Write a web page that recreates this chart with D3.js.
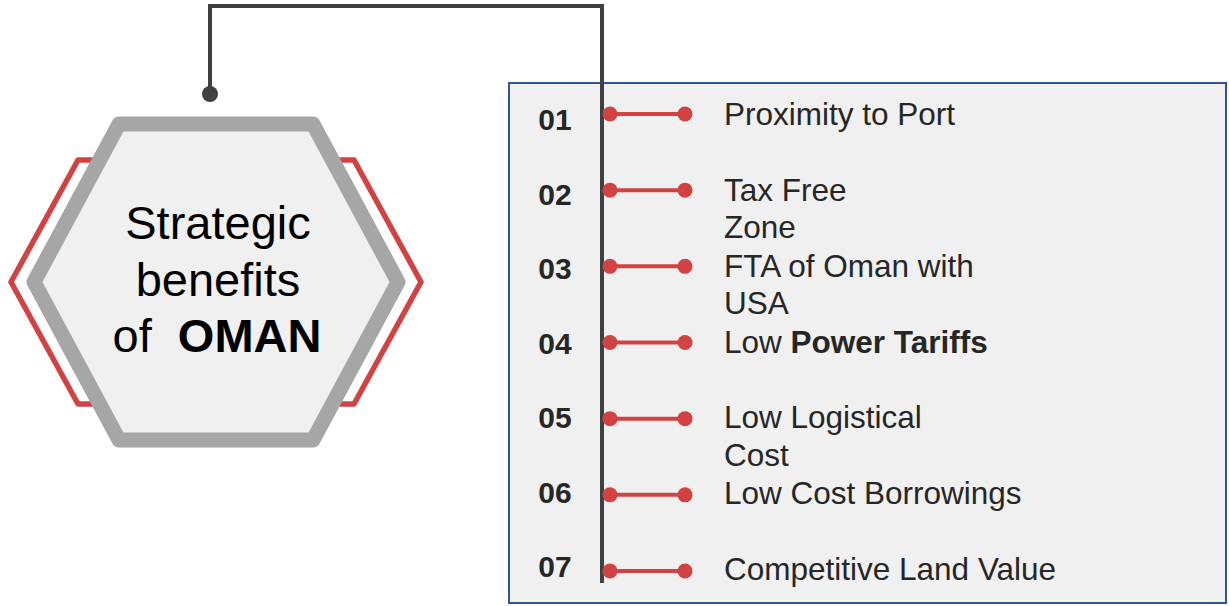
<!DOCTYPE html>
<html>
<head>
<meta charset="utf-8">
<script src="https://cdn.jsdelivr.net/npm/d3@7"></script>
<style>
  html, body { margin: 0; padding: 0; background: #fff; }
  text { font-family: "Liberation Sans", Arial, sans-serif; }
</style>
</head>
<body>
<div class="canvas"></div>
<script>
// data
const numbers = ['01', '02', '03', '04', '05', '06', '07'];
const labelLines = [
  ['Proximity to Port'],
  ['Tax Free', 'Zone'],
  ['FTA of Oman with', 'USA'],
  ['Low Power Tariffs'],
  ['Low Logistical', 'Cost'],
  ['Low Cost Borrowings'],
  ['Competitive Land Value']
];
const boldPhrases = ['', '', '', 'Power Tariffs', '', '', ''];
const titleLines = ['Strategic', 'benefits', 'of  OMAN'];
const titleBold = 'OMAN';

const dims = { width: 1229, height: 606 };
const box = { x: 509, y: 83, w: 717, h: 520 };
const hex = { cx: 216, cy: 282 };
const darkLine = '#404040';
const red = '#d24242';

const svg = d3.select('.canvas')
  .append('svg')
  .attr('width', dims.width)
  .attr('height', dims.height);

// row scales
const dotY = d3.scalePoint().domain(numbers).range([114, 571]);
const numY = d3.scalePoint().domain(numbers).range([130, 577]);
const labelY = d3.scalePoint().domain(numbers).range([125, 580]);

// hexagon path helper
const hexPoints = (hw, hh, inset) => [
  [hex.cx - hw, hex.cy], [hex.cx - hw + inset, hex.cy - hh], [hex.cx + hw - inset, hex.cy - hh],
  [hex.cx + hw, hex.cy], [hex.cx + hw - inset, hex.cy + hh], [hex.cx - hw + inset, hex.cy + hh]
];
const line = d3.line().curve(d3.curveLinearClosed);

// red outer hexagon
svg.append('path')
  .attr('d', line(hexPoints(205, 122, 67)))
  .attr('fill', '#fff')
  .attr('stroke', red)
  .attr('stroke-width', 5.5)
  .attr('stroke-linejoin', 'round');

// grey hexagon
svg.append('path')
  .attr('d', line(hexPoints(182, 158, 85)))
  .attr('fill', '#f0f0f0')
  .attr('stroke', '#a6a6a6')
  .attr('stroke-width', 15)
  .attr('stroke-linejoin', 'round');

// title
const title = svg.append('text')
  .attr('text-anchor', 'middle')
  .attr('font-size', 47)
  .attr('fill', '#000')
  .style('white-space', 'pre');

titleLines.forEach((t, i) => {
  const y = 239 + i * 56.5;
  const idx = t.indexOf(titleBold);
  if (idx < 0) {
    title.append('tspan').attr('x', hex.cx + 2).attr('y', y).text(t);
  } else {
    title.append('tspan').attr('x', hex.cx + 1).attr('y', y).text(t.slice(0, idx));
    title.append('tspan').attr('font-weight', 'bold').text(titleBold);
  }
});

// list box
svg.append('rect')
  .attr('x', box.x)
  .attr('y', box.y)
  .attr('width', box.w)
  .attr('height', box.h)
  .attr('fill', '#f0f0f0')
  .attr('stroke', '#2f5597')
  .attr('stroke-width', 2);

// connector
svg.append('path')
  .attr('d', d3.line()([[210, 94], [210, 6], [602, 6], [602, 583]]))
  .attr('fill', 'none')
  .attr('stroke', darkLine)
  .attr('stroke-width', 4);

svg.append('circle')
  .attr('cx', 210)
  .attr('cy', 94)
  .attr('r', 8)
  .attr('fill', darkLine);

// rows
const rows = svg.selectAll('g.row')
  .data(numbers)
  .enter()
  .append('g')
  .attr('class', 'row');

rows.append('text')
  .attr('x', 555)
  .attr('y', d => numY(d))
  .attr('text-anchor', 'middle')
  .attr('font-size', 30)
  .attr('font-weight', 'bold')
  .attr('fill', '#262626')
  .text(d => d);

rows.append('line')
  .attr('x1', 610)
  .attr('x2', 685)
  .attr('y1', d => dotY(d))
  .attr('y2', d => dotY(d))
  .attr('stroke', red)
  .attr('stroke-width', 4);

[610, 685].forEach(cx => {
  rows.append('circle')
    .attr('cx', cx)
    .attr('cy', d => dotY(d))
    .attr('r', 7.5)
    .attr('fill', red);
});

rows.each(function(d, i) {
  const t = d3.select(this).append('text')
    .attr('font-size', 31.5)
    .attr('fill', '#262626');
  labelLines[i].forEach((l, j) => {
    const y = labelY(d) + j * 37.5;
    const b = boldPhrases[i];
    const idx = b ? l.indexOf(b) : -1;
    if (idx < 0) {
      t.append('tspan').attr('x', 724).attr('y', y).text(l);
    } else {
      t.append('tspan').attr('x', 724).attr('y', y).text(l.slice(0, idx));
      t.append('tspan').attr('font-weight', 'bold').text(b);
      t.append('tspan').text(l.slice(idx + b.length));
    }
  });
});
</script>
</body>
</html>
